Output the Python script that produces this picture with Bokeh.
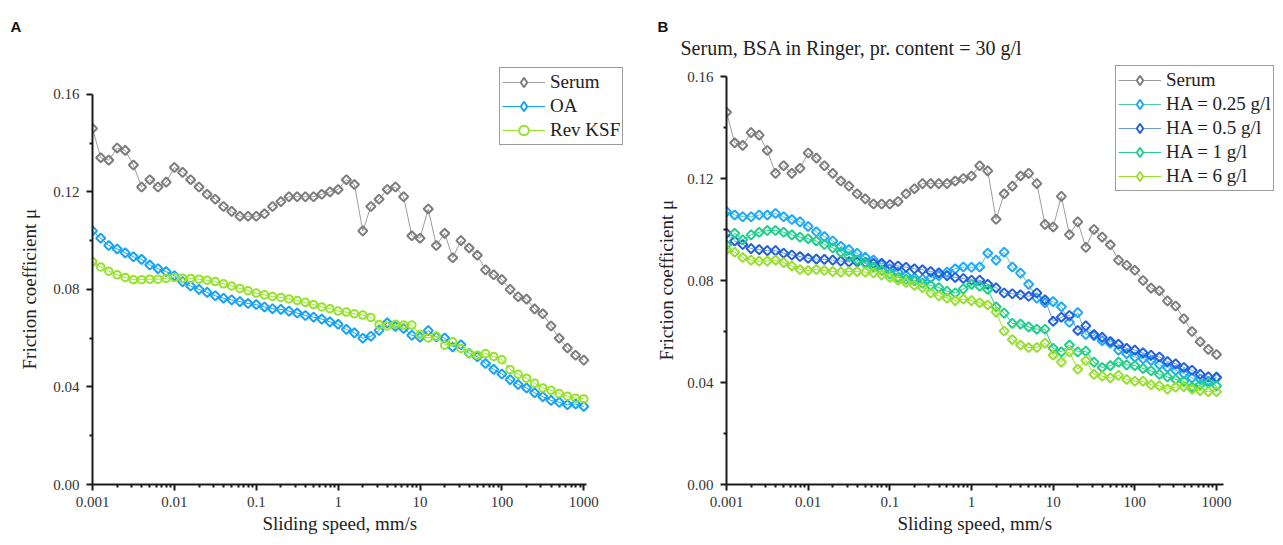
from bokeh.plotting import figure
from bokeh.models import (FixedTicker, NumeralTickFormatter, Legend, LegendItem,
                          Range1d, Title, ColumnDataSource)
from bokeh.layouts import row
from bokeh.embed import file_html
from bokeh.resources import INLINE
import math

# Sliding speed grid (mm/s), ten steps per decade
speed = [0.001, 0.00126, 0.00158, 0.002, 0.00251, 0.00316, 0.00398, 0.00501, 0.00631, 0.00794,
         0.01, 0.0126, 0.0158, 0.02, 0.0251, 0.0316, 0.0398, 0.0501, 0.0631, 0.0794,
         0.1, 0.126, 0.158, 0.2, 0.251, 0.316, 0.398, 0.501, 0.631, 0.794,
         1, 1.26, 1.58, 2, 2.51, 3.16, 3.98, 5.01, 6.31, 7.94,
         10, 12.6, 15.8, 20, 25.1, 31.6, 39.8, 50.1, 63.1, 79.4,
         100, 126, 158, 200, 251, 316, 398, 501, 631, 794, 1000]

serum = [0.146, 0.134, 0.133, 0.138, 0.137, 0.131, 0.122, 0.125, 0.122, 0.124,
         0.130, 0.128, 0.125, 0.122, 0.119, 0.117, 0.114, 0.112, 0.110, 0.110,
         0.110, 0.111, 0.114, 0.116, 0.118, 0.118, 0.118, 0.118, 0.119, 0.120,
         0.121, 0.125, 0.123, 0.104, 0.114, 0.117, 0.121, 0.122, 0.118, 0.102,
         0.101, 0.113, 0.098, 0.103, 0.093, 0.100, 0.097, 0.094, 0.088, 0.086,
         0.084, 0.080, 0.077, 0.076, 0.072, 0.070, 0.065, 0.060, 0.056, 0.053, 0.051]

oa = [0.104, 0.101, 0.098, 0.0966, 0.095, 0.0934, 0.0923, 0.090, 0.0885, 0.0873,
      0.0856, 0.0832, 0.0814, 0.080, 0.0788, 0.0774, 0.0764, 0.0757, 0.075, 0.0742,
      0.0738, 0.0728, 0.0721, 0.0718, 0.0711, 0.0703, 0.0693, 0.0686, 0.0678, 0.0667,
      0.0657, 0.0636, 0.0622, 0.060, 0.0608, 0.0632, 0.0663, 0.0648, 0.0640, 0.0612,
      0.0604, 0.0631, 0.0605, 0.0601, 0.0564, 0.0573, 0.0538, 0.0524, 0.0496, 0.0472,
      0.0453, 0.0430, 0.0410, 0.0396, 0.0376, 0.0360, 0.0345, 0.0337, 0.0327, 0.0330, 0.0320]

rev_ksf = [0.0913, 0.0892, 0.0875, 0.086, 0.0849, 0.084, 0.084, 0.0842, 0.0842, 0.0845,
           0.0849, 0.0846, 0.0845, 0.0842, 0.0838, 0.0832, 0.0823, 0.0814, 0.0804, 0.0795,
           0.0785, 0.0778, 0.0771, 0.0767, 0.0761, 0.0755, 0.0747, 0.0738, 0.0728, 0.0721,
           0.0711, 0.0707, 0.070, 0.0695, 0.0685, 0.0656, 0.065, 0.0657, 0.0654, 0.0654,
           0.0615, 0.0601, 0.0608, 0.0571, 0.0585, 0.0558, 0.0538, 0.0530, 0.0537, 0.0525,
           0.0512, 0.0472, 0.0452, 0.0436, 0.0415, 0.0396, 0.0386, 0.0373, 0.0362, 0.0354, 0.0351]

ha_025 = [0.107, 0.1057, 0.105, 0.105, 0.1057, 0.1057, 0.1063, 0.105, 0.1039, 0.103,
          0.1012, 0.0991, 0.0972, 0.0955, 0.0934, 0.0921, 0.0907, 0.0891, 0.088, 0.0862,
          0.0846, 0.0833, 0.0819, 0.081, 0.0805, 0.081, 0.0819, 0.0833, 0.0846, 0.0853,
          0.0852, 0.0853, 0.0907, 0.088, 0.0911, 0.0853, 0.0829, 0.0785, 0.0731, 0.0713,
          0.0717, 0.0697, 0.0636, 0.0674, 0.0588, 0.0584, 0.0564, 0.0554, 0.0527, 0.0513,
          0.050, 0.0493, 0.0486, 0.047, 0.0459, 0.0448, 0.0435, 0.0418, 0.0414, 0.0405, 0.0418]

ha_05 = [0.0985, 0.0955, 0.0941, 0.0925, 0.0921, 0.0917, 0.0917, 0.0907, 0.090, 0.0894,
         0.0887, 0.0884, 0.0883, 0.088, 0.0876, 0.0873, 0.0873, 0.087, 0.0867, 0.0867,
         0.0862, 0.0857, 0.0852, 0.0846, 0.0842, 0.0835, 0.083, 0.0819, 0.0812, 0.0808,
         0.0801, 0.0801, 0.0785, 0.0771, 0.0751, 0.0748, 0.0744, 0.0738, 0.0751, 0.0724,
         0.064, 0.0656, 0.0663, 0.0604, 0.0622, 0.0588, 0.0577, 0.0561, 0.055, 0.0534,
         0.0527, 0.0516, 0.0507, 0.050, 0.0482, 0.0473, 0.0459, 0.0448, 0.0432, 0.0422, 0.0421]

ha_1 = [0.094, 0.0985, 0.096, 0.0979, 0.0989, 0.0996, 0.0996, 0.0989, 0.0979, 0.097,
        0.0964, 0.0955, 0.0941, 0.0928, 0.0911, 0.0894, 0.088, 0.0867, 0.0853, 0.0839,
        0.0826, 0.0812, 0.0805, 0.0799, 0.0789, 0.0781, 0.0772, 0.0758, 0.0751, 0.0767,
        0.0785, 0.0778, 0.0765, 0.0697, 0.0672, 0.0632, 0.0629, 0.0618, 0.0609, 0.0609,
        0.0534, 0.052, 0.0547, 0.052, 0.0523, 0.048, 0.0459, 0.0466, 0.048, 0.0469,
        0.0466, 0.0455, 0.0446, 0.0432, 0.0422, 0.0412, 0.0405, 0.0382, 0.0391, 0.0398, 0.0387]

ha_6 = [0.0921, 0.0911, 0.089, 0.088, 0.0876, 0.0876, 0.088, 0.087, 0.0857, 0.0843,
        0.0839, 0.0843, 0.0839, 0.0835, 0.0833, 0.0835, 0.0835, 0.0833, 0.083, 0.0822,
        0.0812, 0.0801, 0.0792, 0.0781, 0.0772, 0.0751, 0.074, 0.0731, 0.0721, 0.0727,
        0.0721, 0.0713, 0.0704, 0.0676, 0.0602, 0.0568, 0.0547, 0.0537, 0.0537, 0.0554,
        0.0507, 0.048, 0.052, 0.0452, 0.0486, 0.0432, 0.0425, 0.0418, 0.0428, 0.0412,
        0.0405, 0.0405, 0.0391, 0.0387, 0.0374, 0.0382, 0.0384, 0.0374, 0.0368, 0.0364, 0.0364]

x_major = [0.001, 0.01, 0.1, 1, 10, 100, 1000]
x_labels = ["0.001", "0.01", "0.1", "1", "10", "100", "1000"]
x_minor = [m * d for d in [0.001, 0.01, 0.1, 1, 10, 100] for m in range(2, 10)]
y_major = [0.0, 0.04, 0.08, 0.12, 0.16]
y_minor = [0.02, 0.06, 0.10, 0.14]

SERIF = "Liberation Serif"
AX = "#1a1a1a"
TOP = 58


def make_panel(width, left, bottom, px_decade, px_axis, axis_end,
               ylab_offset, ylab_standoff, xlab_offset):
    """Frame runs to the right edge and near the top; axis lines stop at the data bounds."""
    frame_w = width - left
    frame_h = 545 - TOP - bottom
    x_end = 10 ** (-3 + frame_w / px_decade)
    y_end = 0.16 * frame_h / px_axis
    p = figure(width=width, height=545, x_axis_type="log",
               x_range=Range1d(0.001, x_end), y_range=Range1d(0.0, y_end),
               output_backend="svg", toolbar_location=None,
               min_border_left=left, min_border_right=0,
               min_border_top=TOP, min_border_bottom=bottom)
    p.outline_line_color = None
    p.xgrid.visible = False
    p.ygrid.visible = False

    xa = p.xaxis[0]
    xa.ticker = FixedTicker(ticks=x_major, minor_ticks=x_minor)
    xa.major_label_overrides = {float(t): s for t, s in zip(x_major, x_labels)}
    xa.bounds = (0.001, axis_end)
    ya = p.yaxis[0]
    ya.ticker = FixedTicker(ticks=y_major, minor_ticks=y_minor)
    ya.formatter = NumeralTickFormatter(format="0.00")
    ya.bounds = (0.0, 0.16)

    for ax in (xa, ya):
        ax.axis_line_color = AX
        ax.axis_line_width = 2
        ax.major_tick_line_color = AX
        ax.major_tick_line_width = 2
        ax.minor_tick_line_color = AX
        ax.minor_tick_line_width = 2
        ax.major_tick_in = 0
        ax.major_tick_out = 6
        ax.minor_tick_in = 0
        ax.minor_tick_out = 3
        ax.major_label_text_font = SERIF
        ax.major_label_text_font_size = "15px"
        ax.major_label_text_color = "#333333"
    xa.major_label_standoff = 6
    ya.major_label_standoff = 7

    # axis titles, placed along the bounded part of each axis
    ylab = Title(text="Friction coefficient \u03bc", align="left", offset=ylab_offset,
                 standoff=ylab_standoff, vertical_align="bottom",
                 text_font=SERIF, text_font_size="19px", text_font_style="normal",
                 text_color="#222222")
    p.add_layout(ylab, "left")
    xlab = Title(text="Sliding speed, mm/s", align="left", offset=xlab_offset,
                 standoff=6, vertical_align="top",
                 text_font=SERIF, text_font_size="19px", text_font_style="normal",
                 text_color="#222222")
    p.add_layout(xlab, "below")
    return p


def add_series(p, y, marker, color, line_color, size):
    ang = math.pi / 4 if marker == "square" else 0.0
    src = ColumnDataSource(dict(x=speed, y=y, ang=[ang] * len(speed)))
    ln = p.line("x", "y", source=src, line_color=line_color, line_width=1)
    p.scatter("x", "y", source=src, marker=marker, size=size, fill_color=None,
              line_color=color, line_width=2, angle="ang")
    # legend key only: zero-size in the plot, the legend sizes its own glyph
    key = p.scatter("x", "y", source=src, size=0,
                    marker=("diamond" if marker == "square" else "circle"),
                    fill_color="white", line_color=color, line_width=2)
    return [ln, key]


def add_legend(p, items, loc):
    leg = Legend(items=[LegendItem(label=t, renderers=r, index=0) for t, r in items],
                 location=loc, orientation="vertical",
                 label_text_font=SERIF, label_text_font_size="19px",
                 label_text_color="#222222",
                 glyph_width=43, glyph_height=24, label_height=20,
                 label_standoff=5, spacing=0, padding=2, margin=0,
                 border_line_color="#3a3a3a", border_line_width=1.5,
                 background_fill_color="white", background_fill_alpha=1.0)
    p.add_layout(leg)


def style_title(t, size, font, bold, offset, standoff):
    t.align = "left"
    t.offset = offset
    t.standoff = standoff
    t.text_font = font
    t.text_font_size = size
    t.text_font_style = "bold" if bold else "normal"
    t.text_color = "#111111"


# Panel A: serum vs. OA and revision synovial fluid
pa = make_panel(640, 92, 59, 81.88, 392.0, 1080, 115, 21, 170)
gap = Title(text=" ")
style_title(gap, "20px", SERIF, False, 0, 0)
pa.add_layout(gap, "above")
pa.title.text = "A"
style_title(pa.title, "15px", "Liberation Sans", True, -82, 0)
ra_serum = add_series(pa, serum, "square", "#7c7c7c", "#9c9c9c", 6.5)
ra_oa = add_series(pa, oa, "square", "#16a2f7", "#16a2f7", 6.5)
ra_rev = add_series(pa, rev_ksf, "circle", "#97e22c", "#97e22c", 7.5)
add_legend(pa, [("Serum", ra_serum), ("OA", ra_oa), ("Rev KSF", ra_rev)], (407, 339))

# Panel B: serum vs. BSA in Ringer with hyaluronic acid
pb = make_panel(643, 86, 61, 81.67, 408.0, 1220, 124, 16, 171)
sub = Title(text="Serum, BSA  in Ringer, pr. content = 30  g/l")
style_title(sub, "20px", SERIF, False, -46, 0)
sub.text_color = "#222222"
pb.add_layout(sub, "above")
pb.title.text = "B"
style_title(pb.title, "15px", "Liberation Sans", True, -69, 0)
rb_serum = add_series(pb, serum, "square", "#7c7c7c", "#9c9c9c", 6.5)
rb_025 = add_series(pb, ha_025, "square", "#1ea8ff", "#4fcf98", 6.5)
rb_05 = add_series(pb, ha_05, "square", "#2460dc", "#6b9be6", 6.5)
rb_1 = add_series(pb, ha_1, "square", "#20cf8a", "#20cf8a", 6.5)
rb_6 = add_series(pb, ha_6, "square", "#98e030", "#98e030", 6.5)
add_legend(pb, [("Serum", rb_serum), ("HA = 0.25 g/l", rb_025), ("HA = 0.5 g/l", rb_05),
                ("HA = 1 g/l", rb_1), ("HA = 6 g/l", rb_6)], (389, 293))

layout = row(pa, pb)
open("out.html", "w").write(file_html(layout, INLINE))
